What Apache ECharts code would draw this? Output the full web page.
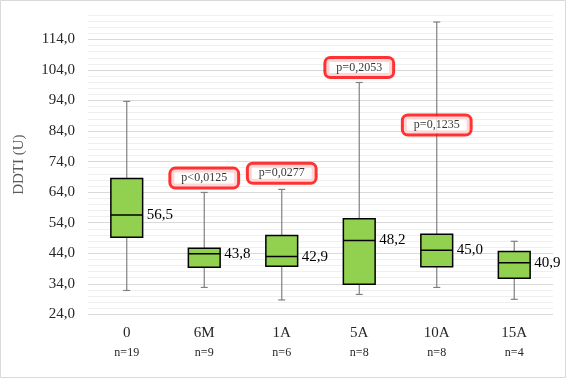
<!DOCTYPE html>
<html>
<head>
<meta charset="utf-8">
<script src="https://cdn.jsdelivr.net/npm/echarts@6/dist/echarts.min.js"></script>
<style>
html,body{margin:0;padding:0;background:#fff;}
#c{width:567px;height:379px;}
</style>
</head>
<body>
<div id="c"></div>
<script>
// Data
const categories = ['0', '6M', '1A', '5A', '10A', '15A'];
const counts = ['n=19', 'n=9', 'n=6', 'n=8', 'n=8', 'n=4'];
const whiskerLow = [31.8, 32.8, 28.7, 30.5, 32.8, 28.9];
const q1Values = [49.2, 39.4, 39.7, 33.8, 39.6, 35.8];
const medians = [56.5, 43.8, 42.9, 48.2, 45.0, 40.9];
const q3Values = [68.5, 45.6, 49.8, 55.3, 50.2, 44.6];
const whiskerHigh = [93.7, 63.9, 64.9, 99.9, 119.7, 47.9];
const pCategories = ['6M', '1A', '5A', '10A'];
const pValues = [68.6, 70.2, 104.8, 86.0];
const pTexts = ['p<0,0125', 'p=0,0277', 'p=0,2053', 'p=0,1235'];
const yMin = 24, yMax = 122, yStep = 2, yLabelStep = 10;

const fmt = v => v.toFixed(1).replace('.', ',');
const serif = '"Liberation Serif", "Times New Roman", serif';

const boxData = categories.map((c, i) => [i, whiskerLow[i], q1Values[i], medians[i], q3Values[i], whiskerHigh[i]]);
const pData = pCategories.map((c, i) => [categories.indexOf(c), pValues[i], pTexts[i]]);

const chart = echarts.init(document.getElementById('c'), null, {renderer: 'canvas'});
chart.setOption({
  animation: false,
  backgroundColor: '#fff',
  graphic: [{
    type: 'rect', silent: true, z: -1,
    shape: {x: 0.5, y: 0.5, width: 565, height: 377},
    style: {fill: 'none', stroke: '#d9d9d9', lineWidth: 1}
  }],
  grid: {left: 88, right: 14, top: 15, bottom: 64.7, containLabel: false},
  xAxis: {
    type: 'category',
    data: categories,
    boundaryGap: true,
    axisLine: {show: false},
    axisTick: {show: false},
    splitLine: {show: false},
    axisLabel: {
      margin: 9,
      formatter: (v, i) => '{a|' + v + '}\n{b|' + counts[i] + '}',
      rich: {
        a: {fontSize: 15, fontFamily: serif, color: '#262626', lineHeight: 20},
        b: {fontSize: 12, fontFamily: serif, color: '#262626', lineHeight: 20}
      }
    }
  },
  yAxis: {
    type: 'value',
    min: yMin, max: yMax, interval: yStep,
    name: 'DDTI (U)',
    nameLocation: 'middle',
    nameGap: 61,
    nameTextStyle: {fontSize: 15, fontFamily: serif, color: '#595959'},
    axisLine: {show: false},
    axisTick: {show: false},
    axisLabel: {
      margin: 13,
      fontSize: 15,
      fontFamily: serif,
      color: '#262626',
      showMaxLabel: true,
      formatter: v => (Math.round(v - yMin) % yLabelStep === 0 ? fmt(v) : '')
    },
    splitLine: {
      show: true,
      lineStyle: {color: ['#d9d9d9', '#efefef', '#efefef', '#efefef', '#efefef'], width: 1}
    }
  },
  series: [{
    type: 'custom',
    data: boxData,
    encode: {x: 0, y: [1, 2, 3, 4, 5]},
    z: 3,
    renderItem: function (params, api) {
      const x = api.value(0);
      const lo = api.coord([x, api.value(1)]);
      const q1 = api.coord([x, api.value(2)]);
      const med = api.coord([x, api.value(3)]);
      const q3 = api.coord([x, api.value(4)]);
      const hi = api.coord([x, api.value(5)]);
      const band = api.size([1, 0])[0];
      const bw = band * 0.41;
      const cap = 7;
      const cx = lo[0];
      const gray = {stroke: '#808080', lineWidth: 1.2};
      return {
        type: 'group',
        children: [
          {type: 'line', shape: {x1: cx, y1: hi[1], x2: cx, y2: q3[1]}, style: gray},
          {type: 'line', shape: {x1: cx, y1: q1[1], x2: cx, y2: lo[1]}, style: gray},
          {type: 'line', shape: {x1: cx - cap / 2, y1: hi[1], x2: cx + cap / 2, y2: hi[1]}, style: gray},
          {type: 'line', shape: {x1: cx - cap / 2, y1: lo[1], x2: cx + cap / 2, y2: lo[1]}, style: gray},
          {type: 'rect', shape: {x: cx - bw / 2, y: q3[1], width: bw, height: q1[1] - q3[1]},
           style: {fill: '#92d050', stroke: '#000', lineWidth: 1.5}},
          {type: 'line', shape: {x1: cx - bw / 2, y1: med[1], x2: cx + bw / 2, y2: med[1]},
           style: {stroke: '#000', lineWidth: 1.5}},
          {type: 'text', x: cx + bw / 2 + 4, y: med[1],
           style: {text: fmt(api.value(3)), fill: '#000', fontSize: 15, fontFamily: serif,
                   align: 'left', verticalAlign: 'middle'}}
        ]
      };
    }
  }, {
    type: 'scatter',
    data: pData,
    symbolSize: 0,
    z: 5,
    label: {
      show: true,
      position: 'inside',
      formatter: p => p.data[2],
      fontSize: 12,
      fontFamily: serif,
      color: '#000',
      backgroundColor: '#fff',
      borderColor: '#ff0000',
      borderWidth: 3,
      borderRadius: 4,
      padding: [3, 10, 2, 10]
    }
  }]
});
</script>
</body>
</html>
